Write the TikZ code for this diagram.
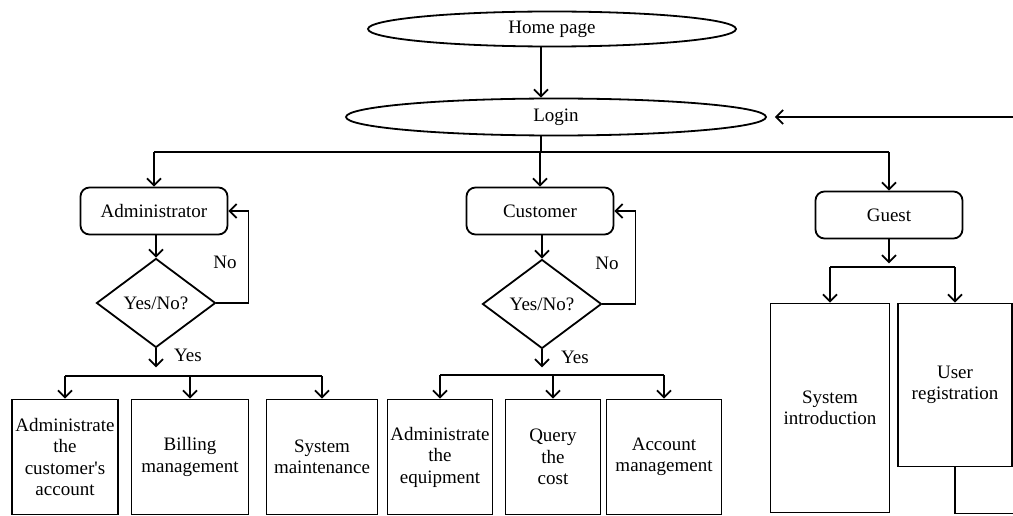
\documentclass[tikz,border=0pt]{standalone}
\usepackage{fontspec}
\setmainfont{Liberation Serif}[Ligatures=TeXOff]
\usetikzlibrary{shapes.geometric,arrows.meta}
\begin{document}
\begin{tikzpicture}[x=1pt, y=-1pt, >={Straight Barb[length=7pt,width=14pt]},
  font=\fontsize{19}{21.5}\selectfont, line width=1.8pt,
  oval/.style={draw, ellipse, inner sep=0pt},
  role/.style={draw, rounded corners=9pt, minimum width=147pt, minimum height=47pt},
  ask/.style={draw, diamond, inner sep=0pt, minimum width=119pt, minimum height=89pt},
  leaf/.style={draw, align=center, inner sep=1pt, minimum height=115pt}]
  \useasboundingbox (0,0) rectangle (1013,516);
  % top: home page and login
  \node[oval, minimum width=368pt, minimum height=35pt] (home) at (552,29) {Home page};
  \node[oval, minimum width=420pt, minimum height=37pt] (login) at (556,117) {Login};
  % the three roles
  \node[role] (admin) at (154,211) {Administrator};
  \node[role] (customer) at (540,211) {Customer};
  \node[role] (guest) at (889,215) {Guest};
  \coordinate (spine) at (541,152);
  \draw[->] (home.south -| spine) -- (login.north -| spine);
  \draw (login.south -| spine) -- (spine);
  \draw (admin.north |- spine) -- (guest.north |- spine);
  \foreach \r in {admin,customer,guest}{
    \draw[->] (\r.north |- spine) -- (\r.north);
  }
  % administrator branch
  \node[ask] (admask) at (156,303) {Yes/No?};
  \node (admno) at (225,262) {No};
  \node (admyes) at (188,355) {Yes};
  \draw[->] (admin.south -| admask) -- (admask.north);
  \draw[->] (admask.east) -- ++(32,0) |- (admin.east);
  \draw[->] (admask.south) -- ++(0,19);
  \node[leaf, minimum width=106pt] (custacct) at (65,457) {Administrate\\the\\customer's\\account};
  \node[leaf, minimum width=117pt] (billing) at (190,457) {Billing\\management};
  \node[leaf, minimum width=111pt] (sysmaint) at (322,457) {System\\maintenance};
  \coordinate (admbus) at (0,376);
  \draw (custacct.north |- admbus) -- (sysmaint.north |- admbus);
  \foreach \b in {custacct,billing,sysmaint}{
    \draw[->] (\b.north |- admbus) -- (\b.north);
  }
  % customer branch
  \node[ask] (cusask) at (542,304) {Yes/No?};
  \node (cusno) at (607,263) {No};
  \node (cusyes) at (575,357) {Yes};
  \draw[->] (customer.south -| cusask) -- (cusask.north);
  \draw[->] (cusask.east) -- ++(33,0) |- (customer.east);
  \draw[->] (cusask.south) -- ++(0,18);
  \node[leaf, minimum width=105pt] (equip) at (440,457) {Administrate\\the\\equipment};
  \node[leaf, minimum width=95pt] (qcost) at (553,457) {Query\\the\\cost};
  \node[leaf, minimum width=115pt] (accmgmt) at (664,457) {Account\\management};
  \coordinate (cusbus) at (0,375);
  \draw (equip.north |- cusbus) -- (accmgmt.north |- cusbus);
  \foreach \b in {equip,qcost,accmgmt}{
    \draw[->] (\b.north |- cusbus) -- (\b.north);
  }
  % guest branch
  \node[leaf, minimum width=119pt, minimum height=209pt] (sysintro) at (830,408) {System\\introduction};
  \node[leaf, minimum width=114pt, minimum height=163pt] (userreg) at (955,385) {User\\registration};
  \coordinate (gstbus) at (0,267);
  \draw[->] (guest.south) -- ++(0,24);
  \draw (sysintro.north |- gstbus) -- (userreg.north |- gstbus);
  \foreach \b in {sysintro,userreg}{
    \draw[->] (\b.north |- gstbus) -- (\b.north);
  }
  % back to login
  \draw[->, shorten >=8pt] (userreg.south) -- ++(0,46) -| ([xshift=40pt]userreg.east |- login.east) -- (login.east);
\end{tikzpicture}
\end{document}
